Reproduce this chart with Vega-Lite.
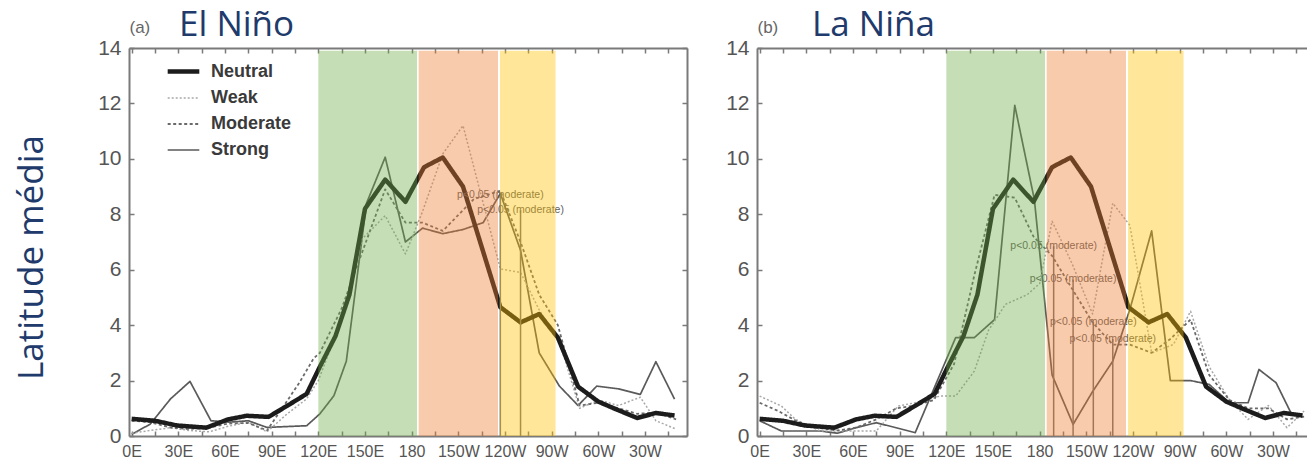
{
  "$schema": "https://vega.github.io/schema/vega-lite/v6.json",
  "background": "white",
  "padding": {"left": 14, "top": 8, "right": 0, "bottom": 0},
  "bounds": "flush",
  "spacing": 70,
  "config": {
    "view": {"stroke": null},
    "font": "Liberation Sans",
    "axis": {"grid": false, "zindex": 1},
    "legend": {"rowPadding": -11}
  },
  "datasets": {
    "curves": [
      {"panel": "a", "series": "Strong", "lon": 0, "lat": 0.06}, {"panel": "a", "series": "Strong", "lon": 12, "lat": 0.43}, {"panel": "a", "series": "Strong", "lon": 25, "lat": 1.34}, {"panel": "a", "series": "Strong", "lon": 37.5, "lat": 1.97}, {"panel": "a", "series": "Strong", "lon": 51, "lat": 0.55}, {"panel": "a", "series": "Strong", "lon": 63, "lat": 0.5}, {"panel": "a", "series": "Strong", "lon": 75, "lat": 0.55}, {"panel": "a", "series": "Strong", "lon": 87, "lat": 0.31}, {"panel": "a", "series": "Strong", "lon": 112.5, "lat": 0.37}, {"panel": "a", "series": "Strong", "lon": 121, "lat": 0.8}, {"panel": "a", "series": "Strong", "lon": 130, "lat": 1.45}, {"panel": "a", "series": "Strong", "lon": 138, "lat": 2.7}, {"panel": "a", "series": "Strong", "lon": 151, "lat": 8.4}, {"panel": "a", "series": "Strong", "lon": 163, "lat": 10.06}, {"panel": "a", "series": "Strong", "lon": 176, "lat": 7.0}, {"panel": "a", "series": "Strong", "lon": 187, "lat": 7.5}, {"panel": "a", "series": "Strong", "lon": 200, "lat": 7.3}, {"panel": "a", "series": "Strong", "lon": 213, "lat": 7.45}, {"panel": "a", "series": "Strong", "lon": 226, "lat": 7.7}, {"panel": "a", "series": "Strong", "lon": 237, "lat": 8.75}, {"panel": "a", "series": "Strong", "lon": 250, "lat": 6.7}, {"panel": "a", "series": "Strong", "lon": 262, "lat": 3.0}, {"panel": "a", "series": "Strong", "lon": 275, "lat": 1.8}, {"panel": "a", "series": "Strong", "lon": 287, "lat": 1.1}, {"panel": "a", "series": "Strong", "lon": 299, "lat": 1.8}, {"panel": "a", "series": "Strong", "lon": 313, "lat": 1.7}, {"panel": "a", "series": "Strong", "lon": 327, "lat": 1.5}, {"panel": "a", "series": "Strong", "lon": 337, "lat": 2.68}, {"panel": "a", "series": "Strong", "lon": 349, "lat": 1.33},

      {"panel": "a", "series": "Weak", "lon": 0, "lat": 0.1}, {"panel": "a", "series": "Weak", "lon": 12, "lat": 0.2}, {"panel": "a", "series": "Weak", "lon": 25, "lat": 0.3}, {"panel": "a", "series": "Weak", "lon": 37, "lat": 0.2}, {"panel": "a", "series": "Weak", "lon": 50, "lat": 0.15}, {"panel": "a", "series": "Weak", "lon": 62, "lat": 0.35}, {"panel": "a", "series": "Weak", "lon": 75, "lat": 0.5}, {"panel": "a", "series": "Weak", "lon": 87, "lat": 0.15}, {"panel": "a", "series": "Weak", "lon": 100, "lat": 0.8}, {"panel": "a", "series": "Weak", "lon": 112.5, "lat": 1.34}, {"panel": "a", "series": "Weak", "lon": 120, "lat": 2.0}, {"panel": "a", "series": "Weak", "lon": 135, "lat": 4.2}, {"panel": "a", "series": "Weak", "lon": 148, "lat": 7.1}, {"panel": "a", "series": "Weak", "lon": 163, "lat": 7.95}, {"panel": "a", "series": "Weak", "lon": 176, "lat": 6.57}, {"panel": "a", "series": "Weak", "lon": 187, "lat": 8.1}, {"panel": "a", "series": "Weak", "lon": 200, "lat": 10.18}, {"panel": "a", "series": "Weak", "lon": 213, "lat": 11.2}, {"panel": "a", "series": "Weak", "lon": 237, "lat": 6.03}, {"panel": "a", "series": "Weak", "lon": 250, "lat": 5.9}, {"panel": "a", "series": "Weak", "lon": 262, "lat": 4.55}, {"panel": "a", "series": "Weak", "lon": 275, "lat": 3.4}, {"panel": "a", "series": "Weak", "lon": 288, "lat": 1.0}, {"panel": "a", "series": "Weak", "lon": 300, "lat": 1.3}, {"panel": "a", "series": "Weak", "lon": 313, "lat": 1.1}, {"panel": "a", "series": "Weak", "lon": 327, "lat": 1.4}, {"panel": "a", "series": "Weak", "lon": 337, "lat": 0.55}, {"panel": "a", "series": "Weak", "lon": 350, "lat": 0.25},

      {"panel": "a", "series": "Moderate", "lon": 0, "lat": 0.55}, {"panel": "a", "series": "Moderate", "lon": 12, "lat": 0.5}, {"panel": "a", "series": "Moderate", "lon": 25, "lat": 0.3}, {"panel": "a", "series": "Moderate", "lon": 37, "lat": 0.25}, {"panel": "a", "series": "Moderate", "lon": 50, "lat": 0.3}, {"panel": "a", "series": "Moderate", "lon": 62, "lat": 0.45}, {"panel": "a", "series": "Moderate", "lon": 75, "lat": 0.47}, {"panel": "a", "series": "Moderate", "lon": 87, "lat": 0.2}, {"panel": "a", "series": "Moderate", "lon": 100, "lat": 1.27}, {"panel": "a", "series": "Moderate", "lon": 108, "lat": 1.94}, {"panel": "a", "series": "Moderate", "lon": 117, "lat": 2.8}, {"panel": "a", "series": "Moderate", "lon": 121, "lat": 3.0}, {"panel": "a", "series": "Moderate", "lon": 135, "lat": 4.6}, {"panel": "a", "series": "Moderate", "lon": 148, "lat": 6.6}, {"panel": "a", "series": "Moderate", "lon": 163, "lat": 8.9}, {"panel": "a", "series": "Moderate", "lon": 176, "lat": 7.7}, {"panel": "a", "series": "Moderate", "lon": 187, "lat": 7.7}, {"panel": "a", "series": "Moderate", "lon": 200, "lat": 7.4}, {"panel": "a", "series": "Moderate", "lon": 220, "lat": 8.55}, {"panel": "a", "series": "Moderate", "lon": 237, "lat": 8.85}, {"panel": "a", "series": "Moderate", "lon": 250, "lat": 7.0}, {"panel": "a", "series": "Moderate", "lon": 262, "lat": 5.1}, {"panel": "a", "series": "Moderate", "lon": 274, "lat": 4.0}, {"panel": "a", "series": "Moderate", "lon": 288, "lat": 1.1}, {"panel": "a", "series": "Moderate", "lon": 300, "lat": 1.2}, {"panel": "a", "series": "Moderate", "lon": 313, "lat": 1.0}, {"panel": "a", "series": "Moderate", "lon": 325, "lat": 0.8}, {"panel": "a", "series": "Moderate", "lon": 337, "lat": 0.85}, {"panel": "a", "series": "Moderate", "lon": 350, "lat": 0.6},

      {"panel": "a", "series": "Neutral", "lon": 0, "lat": 0.62}, {"panel": "a", "series": "Neutral", "lon": 15, "lat": 0.55}, {"panel": "a", "series": "Neutral", "lon": 29, "lat": 0.38}, {"panel": "a", "series": "Neutral", "lon": 48, "lat": 0.3}, {"panel": "a", "series": "Neutral", "lon": 62, "lat": 0.6}, {"panel": "a", "series": "Neutral", "lon": 74, "lat": 0.73}, {"panel": "a", "series": "Neutral", "lon": 88, "lat": 0.69}, {"panel": "a", "series": "Neutral", "lon": 100, "lat": 1.09}, {"panel": "a", "series": "Neutral", "lon": 112.5, "lat": 1.52}, {"panel": "a", "series": "Neutral", "lon": 121, "lat": 2.5}, {"panel": "a", "series": "Neutral", "lon": 131, "lat": 3.6}, {"panel": "a", "series": "Neutral", "lon": 140, "lat": 5.1}, {"panel": "a", "series": "Neutral", "lon": 150, "lat": 8.2}, {"panel": "a", "series": "Neutral", "lon": 163, "lat": 9.25}, {"panel": "a", "series": "Neutral", "lon": 176, "lat": 8.45}, {"panel": "a", "series": "Neutral", "lon": 188, "lat": 9.7}, {"panel": "a", "series": "Neutral", "lon": 200, "lat": 10.05}, {"panel": "a", "series": "Neutral", "lon": 213, "lat": 9.0}, {"panel": "a", "series": "Neutral", "lon": 237, "lat": 4.65}, {"panel": "a", "series": "Neutral", "lon": 250, "lat": 4.1}, {"panel": "a", "series": "Neutral", "lon": 262, "lat": 4.4}, {"panel": "a", "series": "Neutral", "lon": 274, "lat": 3.55}, {"panel": "a", "series": "Neutral", "lon": 287, "lat": 1.78}, {"panel": "a", "series": "Neutral", "lon": 300, "lat": 1.24}, {"panel": "a", "series": "Neutral", "lon": 312, "lat": 0.95}, {"panel": "a", "series": "Neutral", "lon": 325, "lat": 0.65}, {"panel": "a", "series": "Neutral", "lon": 337, "lat": 0.83}, {"panel": "a", "series": "Neutral", "lon": 349, "lat": 0.74},

      {"panel": "b", "series": "Strong", "lon": 0, "lat": 0.55}, {"panel": "b", "series": "Strong", "lon": 14, "lat": 0.18}, {"panel": "b", "series": "Strong", "lon": 39, "lat": 0.18}, {"panel": "b", "series": "Strong", "lon": 50, "lat": 0.1}, {"panel": "b", "series": "Strong", "lon": 62, "lat": 0.3}, {"panel": "b", "series": "Strong", "lon": 75, "lat": 0.48}, {"panel": "b", "series": "Strong", "lon": 100, "lat": 0.12}, {"panel": "b", "series": "Strong", "lon": 126, "lat": 3.55}, {"panel": "b", "series": "Strong", "lon": 138, "lat": 3.55}, {"panel": "b", "series": "Strong", "lon": 151, "lat": 4.2}, {"panel": "b", "series": "Strong", "lon": 164, "lat": 11.93}, {"panel": "b", "series": "Strong", "lon": 176.6, "lat": 8.53}, {"panel": "b", "series": "Strong", "lon": 188, "lat": 2.2}, {"panel": "b", "series": "Strong", "lon": 201.5, "lat": 0.42}, {"panel": "b", "series": "Strong", "lon": 214, "lat": 1.6}, {"panel": "b", "series": "Strong", "lon": 227, "lat": 2.7}, {"panel": "b", "series": "Strong", "lon": 238, "lat": 4.57}, {"panel": "b", "series": "Strong", "lon": 252, "lat": 7.4}, {"panel": "b", "series": "Strong", "lon": 264, "lat": 2.0}, {"panel": "b", "series": "Strong", "lon": 277, "lat": 2.0}, {"panel": "b", "series": "Strong", "lon": 289, "lat": 1.86}, {"panel": "b", "series": "Strong", "lon": 302, "lat": 1.2}, {"panel": "b", "series": "Strong", "lon": 314, "lat": 1.2}, {"panel": "b", "series": "Strong", "lon": 321, "lat": 2.4}, {"panel": "b", "series": "Strong", "lon": 332, "lat": 1.92}, {"panel": "b", "series": "Strong", "lon": 342, "lat": 0.78},

      {"panel": "b", "series": "Weak", "lon": 0, "lat": 1.44}, {"panel": "b", "series": "Weak", "lon": 14, "lat": 1.08}, {"panel": "b", "series": "Weak", "lon": 23, "lat": 0.6}, {"panel": "b", "series": "Weak", "lon": 39, "lat": 0.18}, {"panel": "b", "series": "Weak", "lon": 75, "lat": 0.18}, {"panel": "b", "series": "Weak", "lon": 89, "lat": 1.08}, {"panel": "b", "series": "Weak", "lon": 100, "lat": 1.2}, {"panel": "b", "series": "Weak", "lon": 116, "lat": 1.44}, {"panel": "b", "series": "Weak", "lon": 126, "lat": 1.44}, {"panel": "b", "series": "Weak", "lon": 138, "lat": 2.34}, {"panel": "b", "series": "Weak", "lon": 147, "lat": 3.8}, {"panel": "b", "series": "Weak", "lon": 158, "lat": 4.75}, {"panel": "b", "series": "Weak", "lon": 172, "lat": 5.1}, {"panel": "b", "series": "Weak", "lon": 180, "lat": 5.5}, {"panel": "b", "series": "Weak", "lon": 188, "lat": 7.75}, {"panel": "b", "series": "Weak", "lon": 201, "lat": 6.2}, {"panel": "b", "series": "Weak", "lon": 214, "lat": 4.4}, {"panel": "b", "series": "Weak", "lon": 227, "lat": 8.4}, {"panel": "b", "series": "Weak", "lon": 238, "lat": 7.6}, {"panel": "b", "series": "Weak", "lon": 252, "lat": 3.0}, {"panel": "b", "series": "Weak", "lon": 266, "lat": 3.3}, {"panel": "b", "series": "Weak", "lon": 277, "lat": 4.5}, {"panel": "b", "series": "Weak", "lon": 289, "lat": 2.5}, {"panel": "b", "series": "Weak", "lon": 302, "lat": 1.3}, {"panel": "b", "series": "Weak", "lon": 314, "lat": 0.6}, {"panel": "b", "series": "Weak", "lon": 327, "lat": 1.1}, {"panel": "b", "series": "Weak", "lon": 339, "lat": 0.3}, {"panel": "b", "series": "Weak", "lon": 350, "lat": 0.9},

      {"panel": "b", "series": "Moderate", "lon": 0, "lat": 1.2}, {"panel": "b", "series": "Moderate", "lon": 12, "lat": 0.9}, {"panel": "b", "series": "Moderate", "lon": 25, "lat": 0.5}, {"panel": "b", "series": "Moderate", "lon": 37, "lat": 0.3}, {"panel": "b", "series": "Moderate", "lon": 50, "lat": 0.2}, {"panel": "b", "series": "Moderate", "lon": 62, "lat": 0.3}, {"panel": "b", "series": "Moderate", "lon": 75, "lat": 0.6}, {"panel": "b", "series": "Moderate", "lon": 88, "lat": 1.0}, {"panel": "b", "series": "Moderate", "lon": 100, "lat": 1.1}, {"panel": "b", "series": "Moderate", "lon": 112, "lat": 1.3}, {"panel": "b", "series": "Moderate", "lon": 125, "lat": 2.6}, {"panel": "b", "series": "Moderate", "lon": 138, "lat": 5.8}, {"panel": "b", "series": "Moderate", "lon": 151, "lat": 8.7}, {"panel": "b", "series": "Moderate", "lon": 164, "lat": 8.6}, {"panel": "b", "series": "Moderate", "lon": 176, "lat": 7.2}, {"panel": "b", "series": "Moderate", "lon": 188, "lat": 6.5}, {"panel": "b", "series": "Moderate", "lon": 201, "lat": 5.3}, {"panel": "b", "series": "Moderate", "lon": 214, "lat": 4.1}, {"panel": "b", "series": "Moderate", "lon": 227, "lat": 3.3}, {"panel": "b", "series": "Moderate", "lon": 238, "lat": 3.3}, {"panel": "b", "series": "Moderate", "lon": 252, "lat": 3.0}, {"panel": "b", "series": "Moderate", "lon": 264, "lat": 3.5}, {"panel": "b", "series": "Moderate", "lon": 277, "lat": 4.2}, {"panel": "b", "series": "Moderate", "lon": 289, "lat": 2.2}, {"panel": "b", "series": "Moderate", "lon": 302, "lat": 1.3}, {"panel": "b", "series": "Moderate", "lon": 314, "lat": 1.0}, {"panel": "b", "series": "Moderate", "lon": 327, "lat": 1.0}, {"panel": "b", "series": "Moderate", "lon": 339, "lat": 0.6}, {"panel": "b", "series": "Moderate", "lon": 350, "lat": 0.7},

      {"panel": "b", "series": "Neutral", "lon": 0, "lat": 0.62}, {"panel": "b", "series": "Neutral", "lon": 15, "lat": 0.55}, {"panel": "b", "series": "Neutral", "lon": 29, "lat": 0.38}, {"panel": "b", "series": "Neutral", "lon": 48, "lat": 0.3}, {"panel": "b", "series": "Neutral", "lon": 62, "lat": 0.6}, {"panel": "b", "series": "Neutral", "lon": 74, "lat": 0.73}, {"panel": "b", "series": "Neutral", "lon": 88, "lat": 0.69}, {"panel": "b", "series": "Neutral", "lon": 100, "lat": 1.09}, {"panel": "b", "series": "Neutral", "lon": 112.5, "lat": 1.52}, {"panel": "b", "series": "Neutral", "lon": 121, "lat": 2.5}, {"panel": "b", "series": "Neutral", "lon": 131, "lat": 3.6}, {"panel": "b", "series": "Neutral", "lon": 140, "lat": 5.1}, {"panel": "b", "series": "Neutral", "lon": 150, "lat": 8.2}, {"panel": "b", "series": "Neutral", "lon": 163, "lat": 9.25}, {"panel": "b", "series": "Neutral", "lon": 176, "lat": 8.45}, {"panel": "b", "series": "Neutral", "lon": 188, "lat": 9.7}, {"panel": "b", "series": "Neutral", "lon": 200, "lat": 10.05}, {"panel": "b", "series": "Neutral", "lon": 213, "lat": 9.0}, {"panel": "b", "series": "Neutral", "lon": 237, "lat": 4.65}, {"panel": "b", "series": "Neutral", "lon": 250, "lat": 4.1}, {"panel": "b", "series": "Neutral", "lon": 262, "lat": 4.4}, {"panel": "b", "series": "Neutral", "lon": 274, "lat": 3.55}, {"panel": "b", "series": "Neutral", "lon": 287, "lat": 1.78}, {"panel": "b", "series": "Neutral", "lon": 300, "lat": 1.24}, {"panel": "b", "series": "Neutral", "lon": 312, "lat": 0.95}, {"panel": "b", "series": "Neutral", "lon": 325, "lat": 0.65}, {"panel": "b", "series": "Neutral", "lon": 337, "lat": 0.83}, {"panel": "b", "series": "Neutral", "lon": 349, "lat": 0.74}
    ],
    "signif": [
      {"panel": "a", "lon": 237, "lat": 8.7, "label": "p<0.05 (moderate)"},
      {"panel": "a", "lon": 250, "lat": 8.15, "label": "p<0.05 (moderate)"},
      {"panel": "b", "lon": 189, "lat": 6.85, "label": "p<0.05 (moderate)"},
      {"panel": "b", "lon": 201.5, "lat": 5.65, "label": "p<0.05 (moderate)"},
      {"panel": "b", "lon": 214.5, "lat": 4.1, "label": "p<0.05 (moderate)"},
      {"panel": "b", "lon": 227, "lat": 3.5, "label": "p<0.05 (moderate)"}
    ],
    "zones": [
      {"zone": "west", "start": 120, "end": 183.5},
      {"zone": "central", "start": 184.5, "end": 235.5},
      {"zone": "east", "start": 236.8, "end": 272.5}
    ]
  },
  "resolve": {
    "scale": {"stroke": "independent", "strokeDash": "independent", "strokeWidth": "independent", "fill": "independent"},
    "legend": {"stroke": "independent", "strokeDash": "independent", "strokeWidth": "independent", "fill": "independent"}
  },
  "hconcat": [
    {
      "width": 558,
      "height": 388,
      "title": {"text": "El Niño", "anchor": "start", "frame": "group", "dx": 50, "offset": -53, "baseline": "alphabetic", "font": "Open Sans", "fontSize": 35, "fontWeight": "normal", "color": "#203a6b"},
      "resolve": {"axis": {"x": "independent", "y": "independent"}},
      "layer": [
        {
          "data": {"name": "curves"},
          "transform": [{"filter": "datum.panel == 'a'"}],
          "mark": {"type": "line", "strokeJoin": "round"},
          "encoding": {
            "x": {"field": "lon", "type": "quantitative", "scale": {"domain": [-1.7, 357], "nice": false, "zero": false},
              "axis": {"orient": "bottom", "title": null, "values": [0,15,30,45,60,75,90,105,120,135,150,165,180,195,210,225,240,255,270,285,300,315,330,345],
                "labelExpr": "datum.value % 30 != 0 ? '' : datum.value == 0 ? '0E' : datum.value < 180 ? datum.value + 'E' : datum.value == 180 ? '180' : (360 - datum.value) + 'W'",
                "labelOverlap": false, "labelFlush": false, "labelFontSize": 16, "labelColor": "#555555", "labelPadding": 12,
                "tickSize": -5, "tickWidth": 1.5, "tickColor": "#7a7a7a", "domainColor": "#7a7a7a", "domainWidth": 2}},
            "y": {"field": "lat", "type": "quantitative", "scale": {"domain": [0, 14], "nice": false},
              "axis": {"orient": "left", "title": "Latitude média", "values": [0,2,4,6,8,10,12,14], "labelFontSize": 21, "labelColor": "#555555", "labelPadding": 13,
                "tickSize": -5, "tickWidth": 1.5, "tickColor": "#7a7a7a", "domainColor": "#7a7a7a", "domainWidth": 2,
                "titleFont": "Open Sans", "titleFontSize": 35, "titleFontWeight": "normal", "titleColor": "#203a6b",
                "titleX": -87, "titleY": 209, "titleAngle": -90, "titleAlign": "center", "titleBaseline": "alphabetic"}},
            "stroke": {"field": "series", "type": "nominal",
              "scale": {"domain": ["Neutral", "Weak", "Moderate", "Strong"], "range": ["#1c1c1c", "#a8a8a8", "#6a6a6a", "#5a5a5a"]},
              "legend": {"orient": "none", "legendX": 36, "legendY": 5, "title": null, "symbolType": "stroke", "symbolSize": 1000, "padding": 0, "labelOffset": 9, "labelFontSize": 18, "labelFontWeight": "bold", "labelColor": "#3a3a3a"}},
            "strokeDash": {"field": "series", "type": "nominal",
              "scale": {"domain": ["Neutral", "Weak", "Moderate", "Strong"], "range": [[1, 0], [2, 2], [3, 2.5], [1, 0]]},
              "legend": {"orient": "none", "legendX": 36, "legendY": 5, "title": null, "symbolType": "stroke", "symbolSize": 1000, "padding": 0, "labelOffset": 9, "labelFontSize": 18, "labelFontWeight": "bold", "labelColor": "#3a3a3a"}},
            "strokeWidth": {"field": "series", "type": "nominal",
              "scale": {"type": "ordinal", "domain": ["Neutral", "Weak", "Moderate", "Strong"], "range": [4.5, 1.5, 1.8, 1.7]},
              "legend": {"orient": "none", "legendX": 36, "legendY": 5, "title": null, "symbolType": "stroke", "symbolSize": 1000, "padding": 0, "labelOffset": 9, "labelFontSize": 18, "labelFontWeight": "bold", "labelColor": "#3a3a3a"}}
          }
        },
        {
          "data": {"name": "signif"},
          "transform": [{"filter": "datum.panel == 'a'"}],
          "mark": {"type": "rule", "color": "#707070", "strokeWidth": 1.5},
          "encoding": {
            "x": {"field": "lon", "type": "quantitative", "axis": null},
            "y": {"field": "lat", "type": "quantitative", "axis": null},
            "y2": {"datum": 0}
          }
        },
        {
          "data": {"name": "signif"},
          "transform": [{"filter": "datum.panel == 'a'"}],
          "mark": {"type": "text", "fontSize": 10.5, "color": "#606060", "align": "center", "baseline": "middle"},
          "encoding": {
            "x": {"field": "lon", "type": "quantitative", "axis": null},
            "y": {"field": "lat", "type": "quantitative", "axis": null},
            "text": {"field": "label"}
          }
        },
        {
          "data": {"name": "zones"},
          "mark": {"type": "rect", "fillOpacity": 0.4},
          "encoding": {
            "x": {"field": "start", "type": "quantitative",
              "axis": {"orient": "top", "labels": false, "values": [0,15,30,45,60,75,90,105,120,135,150,165,180,195,210,225,240,255,270,285,300,315,330,345],
                "tickSize": -5, "tickWidth": 1.5, "tickColor": "#7a7a7a", "domainColor": "#7a7a7a", "domainWidth": 2,
                "title": "(a)", "titleX": 0, "titleY": -16, "titleAlign": "left", "titleBaseline": "alphabetic", "titleAngle": 0, "titleFontSize": 17, "titleFontWeight": "normal", "titleColor": "#666666"}},
            "x2": {"field": "end"},
            "y": {"datum": 0, "type": "quantitative",
              "axis": {"orient": "right", "labels": false, "title": null, "values": [0,2,4,6,8,10,12,14],
                "tickSize": -5, "tickWidth": 1.5, "tickColor": "#7a7a7a", "domainColor": "#7a7a7a", "domainWidth": 2}},
            "y2": {"datum": 13.9},
            "fill": {"field": "zone", "type": "nominal", "scale": {"domain": ["west", "central", "east"], "range": ["#70ad47", "#ed7d31", "#ffc000"]}, "legend": null}
          }
        }
      ]
    },
    {
      "width": 558,
      "height": 388,
      "title": {"text": "La Niña", "anchor": "start", "frame": "group", "dx": 55, "offset": -53, "baseline": "alphabetic", "font": "Open Sans", "fontSize": 35, "fontWeight": "normal", "color": "#203a6b"},
      "resolve": {"axis": {"x": "independent", "y": "independent"}},
      "layer": [
        {
          "data": {"name": "curves"},
          "transform": [{"filter": "datum.panel == 'b'"}],
          "mark": {"type": "line", "strokeJoin": "round"},
          "encoding": {
            "x": {"field": "lon", "type": "quantitative", "scale": {"domain": [-1.7, 357], "nice": false, "zero": false},
              "axis": {"orient": "bottom", "title": null, "values": [0,15,30,45,60,75,90,105,120,135,150,165,180,195,210,225,240,255,270,285,300,315,330,345],
                "labelExpr": "datum.value % 30 != 0 ? '' : datum.value == 0 ? '0E' : datum.value < 180 ? datum.value + 'E' : datum.value == 180 ? '180' : (360 - datum.value) + 'W'",
                "labelOverlap": false, "labelFlush": false, "labelFontSize": 16, "labelColor": "#555555", "labelPadding": 12,
                "tickSize": -5, "tickWidth": 1.5, "tickColor": "#7a7a7a", "domainColor": "#7a7a7a", "domainWidth": 2}},
            "y": {"field": "lat", "type": "quantitative", "scale": {"domain": [0, 14], "nice": false},
              "axis": {"orient": "left", "title": null, "values": [0,2,4,6,8,10,12,14], "labelFontSize": 21, "labelColor": "#555555", "labelPadding": 13,
                "tickSize": -5, "tickWidth": 1.5, "tickColor": "#7a7a7a", "domainColor": "#7a7a7a", "domainWidth": 2}},
            "stroke": {"field": "series", "type": "nominal",
              "scale": {"domain": ["Neutral", "Weak", "Moderate", "Strong"], "range": ["#1c1c1c", "#a8a8a8", "#6a6a6a", "#5a5a5a"]}, "legend": null},
            "strokeDash": {"field": "series", "type": "nominal",
              "scale": {"domain": ["Neutral", "Weak", "Moderate", "Strong"], "range": [[1, 0], [2, 2], [3, 2.5], [1, 0]]}, "legend": null},
            "strokeWidth": {"field": "series", "type": "nominal",
              "scale": {"type": "ordinal", "domain": ["Neutral", "Weak", "Moderate", "Strong"], "range": [4.5, 1.5, 1.8, 1.7]}, "legend": null}
          }
        },
        {
          "data": {"name": "signif"},
          "transform": [{"filter": "datum.panel == 'b'"}],
          "mark": {"type": "rule", "color": "#707070", "strokeWidth": 1.5},
          "encoding": {
            "x": {"field": "lon", "type": "quantitative", "axis": null},
            "y": {"field": "lat", "type": "quantitative", "axis": null},
            "y2": {"datum": 0}
          }
        },
        {
          "data": {"name": "signif"},
          "transform": [{"filter": "datum.panel == 'b'"}],
          "mark": {"type": "text", "fontSize": 10.5, "color": "#606060", "align": "center", "baseline": "middle"},
          "encoding": {
            "x": {"field": "lon", "type": "quantitative", "axis": null},
            "y": {"field": "lat", "type": "quantitative", "axis": null},
            "text": {"field": "label"}
          }
        },
        {
          "data": {"name": "zones"},
          "mark": {"type": "rect", "fillOpacity": 0.4},
          "encoding": {
            "x": {"field": "start", "type": "quantitative",
              "axis": {"orient": "top", "labels": false, "values": [0,15,30,45,60,75,90,105,120,135,150,165,180,195,210,225,240,255,270,285,300,315,330,345],
                "tickSize": -5, "tickWidth": 1.5, "tickColor": "#7a7a7a", "domainColor": "#7a7a7a", "domainWidth": 2,
                "title": "(b)", "titleX": 0, "titleY": -16, "titleAlign": "left", "titleBaseline": "alphabetic", "titleAngle": 0, "titleFontSize": 17, "titleFontWeight": "normal", "titleColor": "#666666"}},
            "x2": {"field": "end"},
            "y": {"datum": 0, "type": "quantitative",
              "axis": {"orient": "right", "labels": false, "title": null, "values": [0,2,4,6,8,10,12,14],
                "tickSize": -5, "tickWidth": 1.5, "tickColor": "#7a7a7a", "domainColor": "#7a7a7a", "domainWidth": 2}},
            "y2": {"datum": 13.9},
            "fill": {"field": "zone", "type": "nominal", "scale": {"domain": ["west", "central", "east"], "range": ["#70ad47", "#ed7d31", "#ffc000"]}, "legend": null}
          }
        }
      ]
    }
  ]
}
